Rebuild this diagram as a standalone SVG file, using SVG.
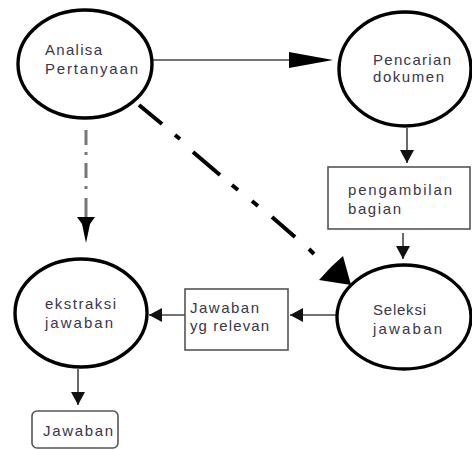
<svg xmlns="http://www.w3.org/2000/svg" width="472" height="450" viewBox="0 0 472 450">
<defs>
<style>
.node ellipse{fill:#fff;stroke:#000;stroke-width:3.4}
.box{fill:#fff;stroke:#555;stroke-width:1.6}
.t{font-family:"Liberation Sans",Arial,sans-serif;font-size:15px;fill:#3a3648}
.c{fill:none;stroke:#444;stroke-width:1.6}
</style>
<marker id="ah" markerUnits="userSpaceOnUse" markerWidth="14" markerHeight="14" refX="13" refY="7" orient="auto">
<path d="M0,0 L13,7 L0,14 z" fill="#111"/>
</marker>
</defs>
<rect width="472" height="450" fill="#fff"/>

<g id="connectors">
<line class="c" x1="152" y1="60" x2="292" y2="60" stroke="#333"/>
<polygon points="289,52 333,60 289,68" fill="#000"/>
<line class="c" x1="407" y1="128" x2="407" y2="163" marker-end="url(#ah)"/>
<line class="c" x1="403" y1="233" x2="403" y2="259" marker-end="url(#ah)"/>
<line class="c" x1="336" y1="315" x2="290" y2="315" marker-end="url(#ah)"/>
<line class="c" x1="185" y1="315" x2="149" y2="315" marker-end="url(#ah)"/>
<line class="c" x1="78" y1="369" x2="78" y2="405" marker-end="url(#ah)"/>
<path d="M86,130 V145 M86,152 V155 M86,163 V178 M86,186 V189 M86,198 V218" fill="none" stroke="#777" stroke-width="3"/>
<polygon points="77,217 95,217 90,224 86,243 82,224" fill="#000"/>
<path d="M139,105 L162,124 M175,135 L180,139 M193,152 L220,175 M232,185 L238,190 M252,201 L258,206 M272,217 L295,237 M309,249 L314,254" fill="none" stroke="#000" stroke-width="4"/>
<polygon points="351,285 343,256 331,267 319,280" fill="#000"/>
</g>

<g id="analisa" class="node">
<ellipse cx="85" cy="64" rx="67" ry="54"/>
<text class="t" x="45" y="55" textLength="57" lengthAdjust="spacing">Analisa</text>
<text class="t" x="45" y="74" textLength="93" lengthAdjust="spacing">Pertanyaan</text>
</g>

<g id="pencarian" class="node">
<ellipse cx="405" cy="69" rx="66" ry="57"/>
<text class="t" x="373" y="65" textLength="78" lengthAdjust="spacing">Pencarian</text>
<text class="t" x="373" y="82" textLength="71" lengthAdjust="spacing">dokumen</text>
</g>

<g id="pengambilan">
<rect class="box" x="328" y="167" width="142" height="62"/>
<text class="t" x="348" y="195" textLength="104" lengthAdjust="spacing">pengambilan</text>
<text class="t" x="348" y="214" textLength="53" lengthAdjust="spacing">bagian</text>
</g>

<g id="seleksi" class="node">
<ellipse cx="404" cy="317" rx="67" ry="52"/>
<text class="t" x="373" y="315" textLength="53" lengthAdjust="spacing">Seleksi</text>
<text class="t" x="373" y="334" textLength="69" lengthAdjust="spacing">jawaban</text>
</g>

<g id="relevan">
<rect class="box" x="185" y="289" width="103" height="61"/>
<text class="t" x="190" y="313" textLength="69" lengthAdjust="spacing">Jawaban</text>
<text class="t" x="190" y="331" textLength="79" lengthAdjust="spacing">yg relevan</text>
</g>

<g id="ekstraksi" class="node">
<ellipse cx="81" cy="313" rx="66" ry="54"/>
<text class="t" x="45" y="309" textLength="71" lengthAdjust="spacing">ekstraksi</text>
<text class="t" x="45" y="328" textLength="68" lengthAdjust="spacing">jawaban</text>
</g>

<g id="jawaban">
<rect class="box" x="32" y="411" width="86" height="37" rx="5"/>
<text class="t" x="43" y="436" textLength="70" lengthAdjust="spacing">Jawaban</text>
</g>
</svg>
